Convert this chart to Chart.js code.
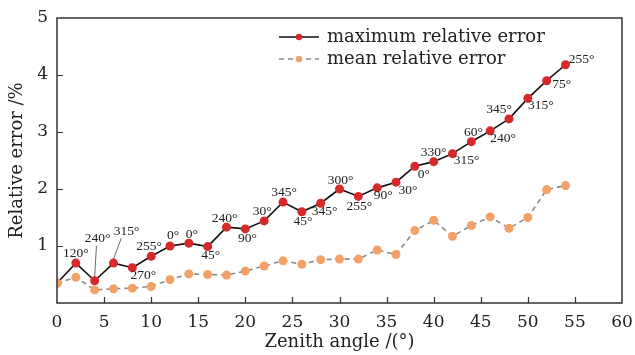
<!DOCTYPE html>
<html>
<head>
<meta charset="utf-8">
<script src="https://cdn.jsdelivr.net/npm/chart.js@4.4.0/dist/chart.umd.min.js"></script>
<style>
  html, body { margin: 0; padding: 0; background: #fff; }
  #wrap { width: 635px; height: 355px; }
</style>
</head>
<body>
<div id="wrap"><canvas id="errChart" width="635" height="355"></canvas></div>
<script>
// Zenith angle (deg) and relative errors (%)
const zenith = [0, 2, 4, 6, 8, 10, 12, 14, 16, 18, 20, 22, 24, 26, 28, 30, 32, 34, 36, 38, 40, 42, 44, 46, 48, 50, 52, 54];
const maxErr = [0.35, 0.70, 0.39, 0.70, 0.62, 0.82, 1.00, 1.05, 0.99, 1.33, 1.30, 1.44, 1.77, 1.60, 1.75, 2.00, 1.87, 2.02, 2.12, 2.40, 2.48, 2.62, 2.83, 3.02, 3.23, 3.59, 3.90, 4.18];
const meanErr = [0.35, 0.45, 0.23, 0.25, 0.26, 0.29, 0.41, 0.51, 0.50, 0.49, 0.56, 0.65, 0.74, 0.68, 0.76, 0.77, 0.77, 0.93, 0.85, 1.27, 1.45, 1.17, 1.36, 1.51, 1.31, 1.50, 1.99, 2.06];
// azimuth at which the maximum error occurs
const maxAzimuth = ['', '120°', '240°', '315°', '270°', '255°', '0°', '0°', '45°', '240°', '90°', '30°', '345°', '45°', '345°', '300°', '255°', '90°', '30°', '0°', '330°', '315°', '60°', '240°', '345°', '315°', '75°', '255°'];
const xTicks = [0, 5, 10, 15, 20, 25, 30, 35, 40, 45, 50, 55, 60];
const yTicks = [0, 1, 2, 3, 4, 5];

// where each azimuth label sits relative to its point [dx, dy, leader line]
const labelOffsets = [
  [0, 0], [0, -10], [3, -42, true], [13, -32, true], [11, 8], [-2, -10], [3, -11], [3, -9],
  [3, 9], [-2, -9], [2, 10], [-2, -9], [1, -10], [1, 10], [4, 8], [1, -9], [1, 10],
  [6, 8], [12, 8], [9, 8], [0, -9], [14, 7], [2, -9], [13, 8], [-10, -9], [13, 7], [15, 4], [16, -5]
];

const SERIF = '"Liberation Serif", "Times New Roman", serif';
const WIDE = '"DejaVu Serif", serif';
const INK = '#222';

const frame = {
  id: 'frame',
  afterDraw(chart) {
    const { ctx, chartArea: a, scales } = chart;
    ctx.save();
    ctx.strokeStyle = '#333';
    ctx.lineWidth = 1.5;
    ctx.strokeRect(a.left, a.top, a.right - a.left, a.bottom - a.top);
    ctx.lineWidth = 1.2;
    ctx.beginPath();
    xTicks.slice(1, -1).forEach(v => {
      const x = Math.round(scales.x.getPixelForValue(v)) + 0.5;
      ctx.moveTo(x, a.bottom);
      ctx.lineTo(x, a.bottom - 6);
    });
    yTicks.slice(1, -1).forEach(v => {
      const y = Math.round(scales.y.getPixelForValue(v)) + 0.5;
      ctx.moveTo(a.left, y);
      ctx.lineTo(a.left + 6, y);
    });
    ctx.stroke();
    ctx.restore();
  }
};

const azimuthLabels = {
  id: 'azimuthLabels',
  afterDatasetsDraw(chart) {
    const { ctx } = chart;
    const pts = chart.getDatasetMeta(0).data;
    ctx.save();
    ctx.font = '13.5px ' + SERIF;
    ctx.fillStyle = INK;
    ctx.textAlign = 'center';
    ctx.textBaseline = 'middle';
    pts.forEach((p, i) => {
      const txt = maxAzimuth[i];
      if (!txt) return;
      const [dx, dy, leader] = labelOffsets[i];
      if (leader) {
        ctx.strokeStyle = '#444';
        ctx.lineWidth = 0.8;
        ctx.beginPath();
        ctx.moveTo(p.x, p.y - 4);
        ctx.lineTo(p.x + dx * 0.6, p.y + dy + 7);
        ctx.stroke();
      }
      ctx.fillText(txt, p.x + dx, p.y + dy);
    });
    ctx.restore();
  }
};

const legendBox = {
  id: 'legendBox',
  afterDraw(chart) {
    const { ctx } = chart;
    const rows = [
      { ds: chart.data.datasets[0], y: 37 },
      { ds: chart.data.datasets[1], y: 59 }
    ];
    ctx.save();
    rows.forEach(r => {
      ctx.strokeStyle = r.ds.borderColor;
      ctx.lineWidth = r.ds.borderWidth;
      ctx.setLineDash(r.ds.borderDash || []);
      ctx.beginPath();
      ctx.moveTo(279, r.y);
      ctx.lineTo(319, r.y);
      ctx.stroke();
      ctx.setLineDash([]);
      ctx.fillStyle = r.ds.pointBackgroundColor;
      ctx.beginPath();
      ctx.arc(299, r.y, 3.2, 0, Math.PI * 2);
      ctx.fill();
      ctx.fillStyle = INK;
      ctx.font = '18px ' + WIDE;
      ctx.textAlign = 'left';
      ctx.textBaseline = 'middle';
      ctx.fillText(r.ds.label, 327, r.y);
    });
    ctx.restore();
  }
};

new Chart(document.getElementById('errChart'), {
  type: 'line',
  data: {
    datasets: [
      {
        label: 'maximum relative error',
        data: zenith.map((z, i) => ({ x: z, y: maxErr[i] })),
        borderColor: '#111',
        borderWidth: 1.6,
        pointBackgroundColor: '#d62a2a',
        pointBorderWidth: 0,
        pointRadius: 4.5,
        tension: 0,
        order: 1
      },
      {
        label: 'mean relative error',
        data: zenith.map((z, i) => ({ x: z, y: meanErr[i] })),
        borderColor: '#8a8a8a',
        borderWidth: 1.6,
        borderDash: [5, 4],
        pointBackgroundColor: '#f4a168',
        pointBorderWidth: 0,
        pointRadius: 4.5,
        tension: 0,
        order: 0
      }
    ]
  },
  options: {
    responsive: false,
    animation: false,
    devicePixelRatio: 1,
    layout: { padding: { top: 18, right: 13, left: 0, bottom: 0 } },
    plugins: { legend: { display: false }, tooltip: { enabled: false } },
    scales: {
      x: {
        type: 'linear',
        min: 0,
        max: 60,
        afterFit(s) { s.height = 52; s.paddingLeft = 0; s.paddingRight = 0; },
        afterBuildTicks(s) { s.ticks = xTicks.map(v => ({ value: v })); },
        grid: { display: false, drawTicks: false },
        border: { display: false },
        ticks: { font: { family: WIDE, size: 17 }, color: INK, padding: 9, maxRotation: 0 },
        title: {
          display: true,
          text: 'Zenith angle /(°)',
          font: { family: WIDE, size: 18, lineHeight: 1.2 },
          color: INK,
          padding: { top: 0, bottom: 2 }
        }
      },
      y: {
        min: 0,
        max: 5,
        afterFit(s) { s.width = 57; s.paddingTop = 0; s.paddingBottom = 0; },
        afterBuildTicks(s) { s.ticks = yTicks.map(v => ({ value: v })); },
        grid: { display: false, drawTicks: false },
        border: { display: false },
        ticks: {
          font: { family: WIDE, size: 17 },
          color: INK,
          padding: 9,
          callback: v => (v === 0 ? '' : v)
        },
        title: {
          display: true,
          text: 'Relative error /%',
          font: { family: WIDE, size: 18, lineHeight: 1.2 },
          color: INK,
          padding: { top: 7, bottom: 0 }
        }
      }
    }
  },
  plugins: [frame, azimuthLabels, legendBox]
});
</script>
</body>
</html>
